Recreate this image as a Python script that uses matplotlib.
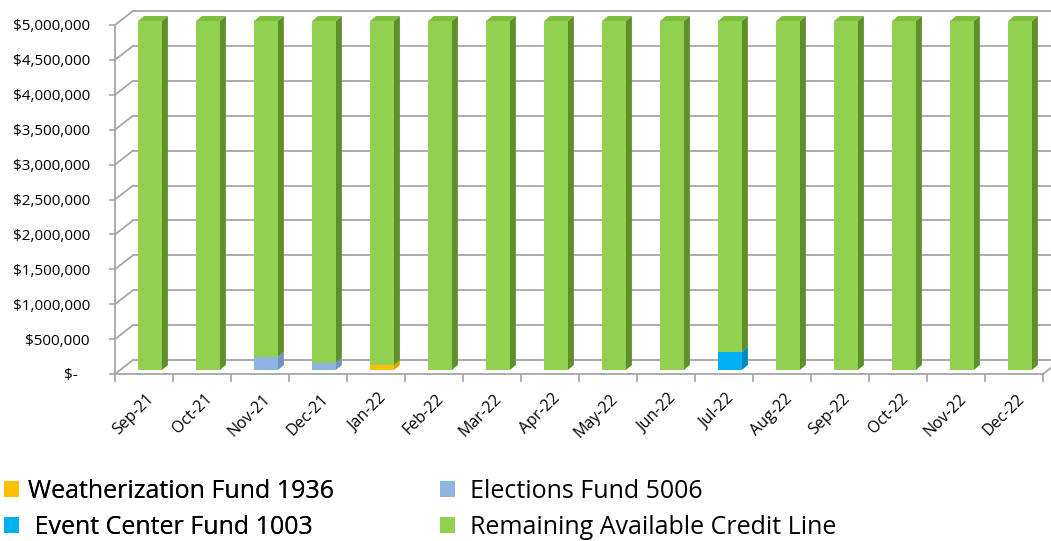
import numpy as np
import matplotlib
matplotlib.use("Agg")
import matplotlib.pyplot as plt
from matplotlib.patches import Polygon, Patch
from matplotlib.transforms import offset_copy, ScaledTranslation
from matplotlib.ticker import FuncFormatter

plt.rcParams['font.family'] = ['Open Sans', 'DejaVu Sans']

months = ['Sep-21', 'Oct-21', 'Nov-21', 'Dec-21', 'Jan-22', 'Feb-22', 'Mar-22', 'Apr-22',
          'May-22', 'Jun-22', 'Jul-22', 'Aug-22', 'Sep-22', 'Oct-22', 'Nov-22', 'Dec-22']
weatherization = [0, 0, 0, 0, 70000, 0, 0, 0, 0, 0, 0, 0, 0, 0, 0, 0]
elections = [0, 0, 185000, 100000, 0, 0, 0, 0, 0, 0, 0, 0, 0, 0, 0, 0]
event_center = [0, 0, 0, 0, 0, 0, 0, 0, 0, 0, 260000, 0, 0, 0, 0, 0]
remaining = [5000000, 5000000, 4815000, 4900000, 4930000, 5000000, 5000000, 5000000,
             5000000, 5000000, 4740000, 5000000, 5000000, 5000000, 5000000, 5000000]
yticks = list(range(0, 5000001, 500000))

series = [
    ('Weatherization Fund 1936', weatherization, '#FFC000', '#D9A300', '#FFD040'),
    ('Elections Fund 5006', elections, '#8EB4E3', '#6E93C0', '#A8C6EC'),
    (' Event Center Fund 1003', event_center, '#00B0F0', '#0088C0', '#40C4F4'),
    ('Remaining Available Credit Line', remaining, '#92D050', '#5F8F2C', '#7DBF3F'),
]

fig = plt.figure(figsize=(10.51, 5.41), dpi=100)
W, H = 1051, 541
ax = fig.add_axes([115 / W, (541 - 374) / H, 928 / W, 349 / H])
ax.set_xlim(-0.5, 15.5)
ax.set_ylim(0, 5000000)
for s in ax.spines.values():
    s.set_visible(False)

grid_c = '#A6A6A6'
px_x = 928 / 16.0          # pixels per category
px_y = 349 / 5000000.0     # pixels per value unit

# wall depth (pixels)
wdx, wdy = 18, 14
back = offset_copy(ax.transData, fig=fig, x=wdx, y=wdy, units='dots')
for v in yticks:
    ax.plot([-0.5, 15.5], [v, v], color=grid_c, lw=1.3, transform=back, clip_on=False, zorder=1)
    ax.plot([-0.5, -0.5 + wdx / px_x], [v, v + wdy / px_y], color=grid_c, lw=1.3,
            clip_on=False, zorder=1)
# floor
ax.plot([-0.5, 15.5], [0, 0], color=grid_c, lw=1.3, clip_on=False, zorder=1)
ax.plot([15.5, 15.5 + wdx / px_x], [0, wdy / px_y], color=grid_c, lw=1.3, clip_on=False, zorder=1)
ax.plot([-0.5, -0.5], [0, 5000000], color=grid_c, lw=1.3, clip_on=False, zorder=1)

# bars with fake depth
bdx, bdy = 6, 5
shift = offset_copy(ax.transData, fig=fig, x=6, y=4, units='dots')
ddx = bdx / px_x
ddy = bdy / px_y
width = 0.41
x = np.arange(len(months))
bottom = np.zeros(len(months))
z = 3
for name, vals, front, side, top in series:
    vals = np.array(vals, dtype=float)
    for i in range(len(months)):
        if vals[i] <= 0:
            continue
        b = bottom[i]
        t = b + vals[i]
        xl = x[i] - width / 2
        xr = x[i] + width / 2
        ax.add_patch(Polygon([[xr, b], [xr + ddx, b + ddy], [xr + ddx, t + ddy], [xr, t]],
                             closed=True, facecolor=side, edgecolor='none',
                             transform=shift, clip_on=False, zorder=z))
        ax.add_patch(Polygon([[xl, t], [xl + ddx, t + ddy], [xr + ddx, t + ddy], [xr, t]],
                             closed=True, facecolor=top, edgecolor='none',
                             transform=shift, clip_on=False, zorder=z))
    ax.bar(x, vals, width=width, bottom=bottom, color=front, transform=shift,
           clip_on=False, zorder=z + 0.5)
    bottom += vals
    z += 1

# ticks
def money(v, pos):
    if v == 0:
        return '$-   '
    return '${:,.0f}'.format(v)

ax.set_yticks(yticks)
ax.yaxis.set_major_formatter(FuncFormatter(money))
ax.tick_params(axis='y', length=4, color=grid_c, width=1.2, pad=14, labelsize=11)

ax.set_xticks(x)
ax.set_xticklabels(months, rotation=45, ha='right', rotation_mode='anchor', fontsize=11.5)
ax.set_xticks(np.arange(-0.5, 16, 1), minor=True)
ax.tick_params(axis='x', which='major', length=0, pad=12)
ax.tick_params(axis='x', which='minor', length=6, color=grid_c, width=1.2)
for lab in ax.get_xticklabels():
    lab.set_transform(lab.get_transform() + ScaledTranslation(2 / 100, 0, fig.dpi_scale_trans))

# legend in two columns
handles = [Patch(facecolor=s[2], edgecolor='none') for s in series]
labels = [s[0] for s in series]
leg_kw = dict(loc='lower left', frameon=False, fontsize=18, handlelength=0.6,
              handleheight=0.6, labelspacing=0.45, borderaxespad=0, borderpad=0)
leg1 = fig.legend([handles[0], handles[2]], [labels[0], labels[2]],
                  bbox_to_anchor=(4 / W, 1 / H), handletextpad=0.38, **leg_kw)
fig.add_artist(leg1)
fig.legend([handles[1], handles[3]], [labels[1], labels[3]],
           bbox_to_anchor=(440 / W, 1 / H), handletextpad=0.6, **leg_kw)

fig.savefig('out.png', dpi=100)
